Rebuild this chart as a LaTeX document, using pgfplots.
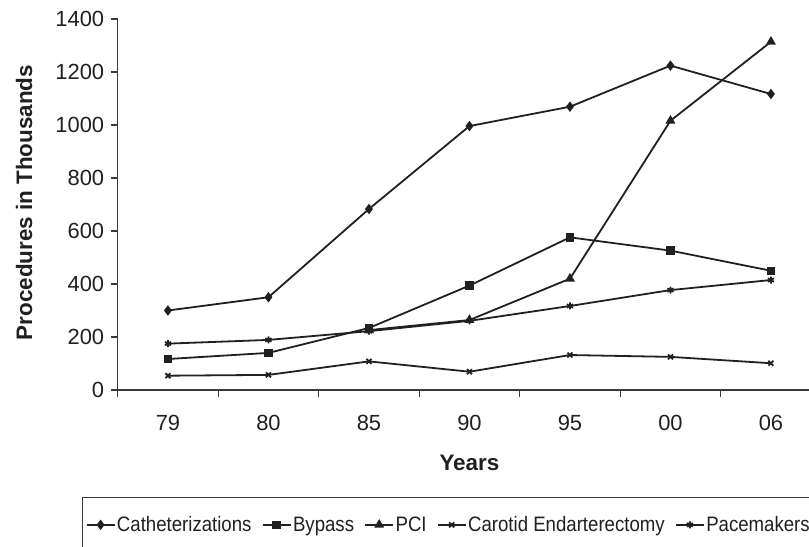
\documentclass[border=0pt]{standalone}
\usepackage{pgfplots}
\usepackage{pgfplotstable}
\pgfplotsset{compat=1.18}
\usepackage{fontspec}
\setmainfont{Liberation Sans}
\newfontfamily\legfont[FakeStretch=0.89]{Liberation Sans}
\definecolor{ink}{HTML}{231F20}
\definecolor{axc}{HTML}{3A3A3A}
\pgfplotstableread{
x cath byp pci car pace
0 300 117 nan 54 175
1 350 140 nan 57 189
2 683 234 226 108 222
3 996 394 264 69 261
4 1069 576 420 132 317
5 1224 526 1016 125 377
6 1117 450 1314 101 415
}\data
\begin{document}
\begin{tikzpicture}
\begin{axis}[
  scale only axis, width=703.5bp, height=371bp,
  xmin=-0.5, xmax=6.5, ymin=0, ymax=1400,
  axis x line*=bottom, axis y line*=left,
  axis line style={axc, line width=1.2bp},
  xtick={-0.5,0.5,...,6.5}, xticklabels={79,80,85,90,95,00,06},
  x tick label as interval=true,
  ytick={0,200,...,1400},
  major tick length=7bp,
  tick align=outside,
  tick style={axc, line width=1.2bp},
  /pgf/number format/assume math mode=true,
  /pgf/number format/1000 sep={},
  ticklabel style={font=\fontsize{22}{26}\selectfont, text=ink},
  yticklabel style={xshift=-3bp},
  xticklabel style={yshift=-15bp},
  xlabel={Years}, ylabel={Procedures in Thousands},
  every axis x label/.style={at={(axis description cs:0.5,-0.197)},anchor=center,font=\fontsize{22.5}{26}\selectfont\bfseries, text=ink},
  every axis y label/.style={at={(axis description cs:-0.1332,0.505)},rotate=90,anchor=center,font=\fontsize{22.5}{26}\selectfont\bfseries, text=ink},
  clip=false,
  every axis plot/.append style={ink, line width=1.8bp, mark options={solid, fill=ink}},
  legend columns=5,
  legend style={at={(axis description cs:-0.0512,-0.2884)}, anchor=north west,
    draw=axc, line width=1bp, inner xsep=3.5bp, inner ysep=17.5bp,
    font=\legfont\fontsize{21}{24}\selectfont, text=ink,
    /tikz/every even column/.append style={column sep=8.7bp},
    nodes={inner sep=1.5bp}},
  legend image code/.code={\draw[mark repeat=2,mark phase=2,#1,line width=1.8bp] plot coordinates {(0bp,0bp) (14bp,0bp) (28bp,0bp)};},
]
\addplot[mark=diamond*, mark size=3.8bp] table[x=x,y=cath] {\data};
\addlegendentry{Catheterizations}
\addplot[mark=square*, mark size=3.3bp] table[x=x,y=byp] {\data};
\addlegendentry{Bypass}
\addplot[mark=triangle*, mark size=4bp] table[x=x,y=pci] {\data};
\addlegendentry{PCI}
\addplot[mark=x, mark size=3.5bp] table[x=x,y=car] {\data};
\addlegendentry{Carotid Endarterectomy}
\addplot[mark=asterisk, mark size=3.5bp] table[x=x,y=pace] {\data};
\addlegendentry{Pacemakers}
\end{axis}
\pgfresetboundingbox
\path (-117.7bp,-157bp) rectangle (691.3bp,390bp);
\end{tikzpicture}
\end{document}
